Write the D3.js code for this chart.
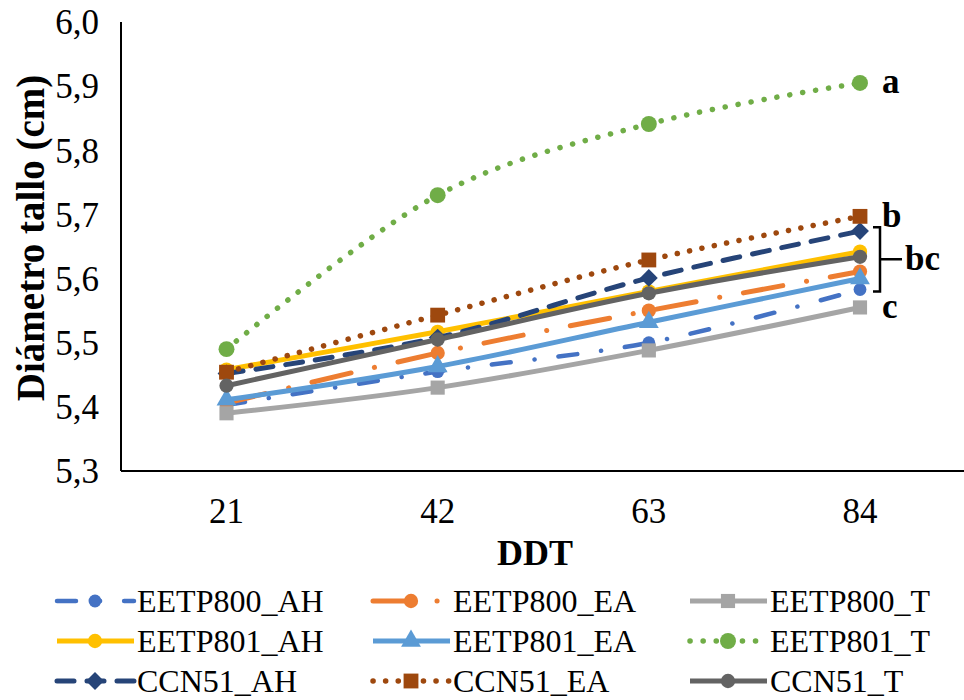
<!DOCTYPE html>
<html>
<head>
<meta charset="utf-8">
<script src="https://cdn.jsdelivr.net/npm/d3@7/dist/d3.min.js"></script>
<style>
body { margin: 0; background: #fff; }
</style>
</head>
<body>
<svg></svg>
<script>

var width = 964;
var height = 700;

// data
var days = ["21", "42", "63", "84"];
var yTicks = [5.3, 5.4, 5.5, 5.6, 5.7, 5.8, 5.9, 6.0];
var names = ["EETP800_AH", "EETP800_EA", "EETP800_T",
             "EETP801_AH", "EETP801_EA", "EETP801_T",
             "CCN51_AH", "CCN51_EA", "CCN51_T"];

var eetp800_AH = [5.403, 5.455, 5.500, 5.583];
var eetp800_EA = [5.406, 5.484, 5.550, 5.611];
var eetp800_T  = [5.390, 5.430, 5.488, 5.555];
var eetp801_AH = [5.458, 5.517, 5.580, 5.642];
var eetp801_EA = [5.411, 5.463, 5.532, 5.600];
var eetp801_T  = [5.490, 5.730, 5.841, 5.905];
var ccn51_AH   = [5.452, 5.508, 5.601, 5.674];
var ccn51_EA   = [5.454, 5.543, 5.629, 5.697];
var ccn51_T    = [5.433, 5.505, 5.577, 5.634];

var values = [eetp800_AH, eetp800_EA, eetp800_T, eetp801_AH, eetp801_EA,
              eetp801_T, ccn51_AH, ccn51_EA, ccn51_T];

// letters of the mean separation test
var letters = [{text: "a", at: 5.905}, {text: "b", at: 5.697}, {text: "c", at: 5.555}];
var bracket = {text: "bc", from: 5.680, to: 5.580};

// look of each series (kept apart from the data)
var styles = [
  {color: "#4472C4", dash: "19,24,0.1,24", width: 4.5, marker: "circle", size: 130},
  {color: "#ED7D31", dash: "40,24,0.1,24", width: 5, marker: "circle", size: 160},
  {color: "#A5A5A5", dash: null, width: 5, marker: "square", size: 200},
  {color: "#FFC000", dash: null, width: 5, marker: "circle", size: 160},
  {color: "#5B9BD5", dash: null, width: 5, marker: "triangle", size: 170},
  {color: "#70AD47", dash: "0.1,13", width: 5.5, marker: "circle", size: 200},
  {color: "#264478", dash: "17,13", width: 5, marker: "diamond", size: 160},
  {color: "#9E480E", dash: "0.1,12.5", width: 5.5, marker: "square", size: 220},
  {color: "#636363", dash: null, width: 5, marker: "circle", size: 160}
];

var font = "'Liberation Serif'";

var svg = d3.select("svg").attr("width", width).attr("height", height);

var x = d3.scalePoint().domain(days).range([226.5, 860]);
var y = d3.scaleLinear().domain([5.3, 6.0]).range([471, 22]);

// axes
svg.append("line")
  .attr("x1", 121).attr("x2", 121)
  .attr("y1", y(6.0)).attr("y2", y(5.3))
  .attr("stroke", "#000").attr("stroke-width", 2);
svg.append("line")
  .attr("x1", 121).attr("x2", width)
  .attr("y1", y(5.3)).attr("y2", y(5.3))
  .attr("stroke", "#000").attr("stroke-width", 2);

svg.selectAll(".ytick").data(yTicks).enter().append("text")
  .attr("class", "ytick")
  .attr("x", 99)
  .attr("y", function(d) { return y(d); })
  .attr("dy", "0.35em")
  .attr("text-anchor", "end")
  .style("font-family", font)
  .style("font-size", "35px")
  .text(function(d) { return d.toFixed(1).replace(".", ","); });

svg.selectAll(".xtick").data(days).enter().append("text")
  .attr("class", "xtick")
  .attr("x", function(d) { return x(d); })
  .attr("y", 511)
  .attr("dy", "0.35em")
  .attr("text-anchor", "middle")
  .style("font-family", font)
  .style("font-size", "35px")
  .text(function(d) { return d; });

svg.append("text")
  .attr("x", 535).attr("y", 552)
  .attr("dy", "0.35em")
  .attr("text-anchor", "middle")
  .style("font-family", font)
  .style("font-size", "36px").style("font-weight", "bold")
  .text("DDT");

svg.append("text")
  .attr("transform", "translate(30,238) rotate(-90)")
  .attr("dy", "0.35em")
  .attr("text-anchor", "middle")
  .style("font-family", font)
  .style("font-size", "39px").style("font-weight", "bold")
  .text("Diámetro tallo (cm)");

function symbolPath(s) {
  var type = {circle: d3.symbolCircle, square: d3.symbolSquare,
              triangle: d3.symbolTriangle, diamond: d3.symbolSquare}[s.marker];
  return d3.symbol().type(type).size(s.size)();
}

function marker(g, s, px, py) {
  g.append("path")
    .attr("d", symbolPath(s))
    .attr("transform", "translate(" + px + "," + py + ")" + (s.marker == "diamond" ? " rotate(45)" : ""))
    .attr("fill", s.color);
}

var line = d3.line()
  .x(function(d, i) { return x(days[i]); })
  .y(function(d) { return y(d); })
  .curve(d3.curveCatmullRom.alpha(0));

values.forEach(function(vals, k) {
  var s = styles[k];
  var g = svg.append("g");
  g.append("path")
    .attr("d", line(vals))
    .attr("fill", "none")
    .attr("stroke", s.color)
    .attr("stroke-width", s.width)
    .attr("stroke-linecap", s.dash ? "round" : "butt")
    .attr("stroke-dasharray", s.dash);
  vals.forEach(function(v, i) { marker(g, s, x(days[i]), y(v)); });
});

// letters
svg.selectAll(".letter").data(letters).enter().append("text")
  .attr("class", "letter")
  .attr("x", x("84") + 22)
  .attr("y", function(d) { return y(d.at); })
  .attr("dy", "0.3em")
  .style("font-family", font)
  .style("font-size", "35px").style("font-weight", "bold")
  .text(function(d) { return d.text; });

var bx = x("84") + 20;
var by1 = y(bracket.from), by2 = y(bracket.to);
svg.append("path")
  .attr("d", "M" + (bx - 7) + "," + by1 + "H" + bx + "V" + by2 + "H" + (bx - 7) +
             "M" + bx + "," + ((by1 + by2) / 2) + "H" + (bx + 22))
  .attr("fill", "none").attr("stroke", "#000").attr("stroke-width", 2.5);
svg.append("text")
  .attr("x", bx + 25).attr("y", (by1 + by2) / 2)
  .attr("dy", "0.3em")
  .style("font-family", font)
  .style("font-size", "35px").style("font-weight", "bold")
  .text(bracket.text);

// legend
var colX = [57, 373, 690];
var rowY = [601, 641, 681];
names.forEach(function(n, k) {
  var s = styles[k];
  var lx = colX[k % 3], ly = rowY[Math.floor(k / 3)];
  var g = svg.append("g");
  g.append("line")
    .attr("x1", lx).attr("x2", lx + 77)
    .attr("y1", ly).attr("y2", ly)
    .attr("stroke", s.color)
    .attr("stroke-width", s.width)
    .attr("stroke-linecap", s.dash ? "round" : "butt")
    .attr("stroke-dasharray", s.dash);
  marker(g, s, lx + 38, ly);
  g.append("text")
    .attr("x", lx + 80).attr("y", ly)
    .attr("dy", "0.35em")
    .style("font-family", font)
    .style("font-size", "32px")
    .text(n);
});

</script>
</body>
</html>
